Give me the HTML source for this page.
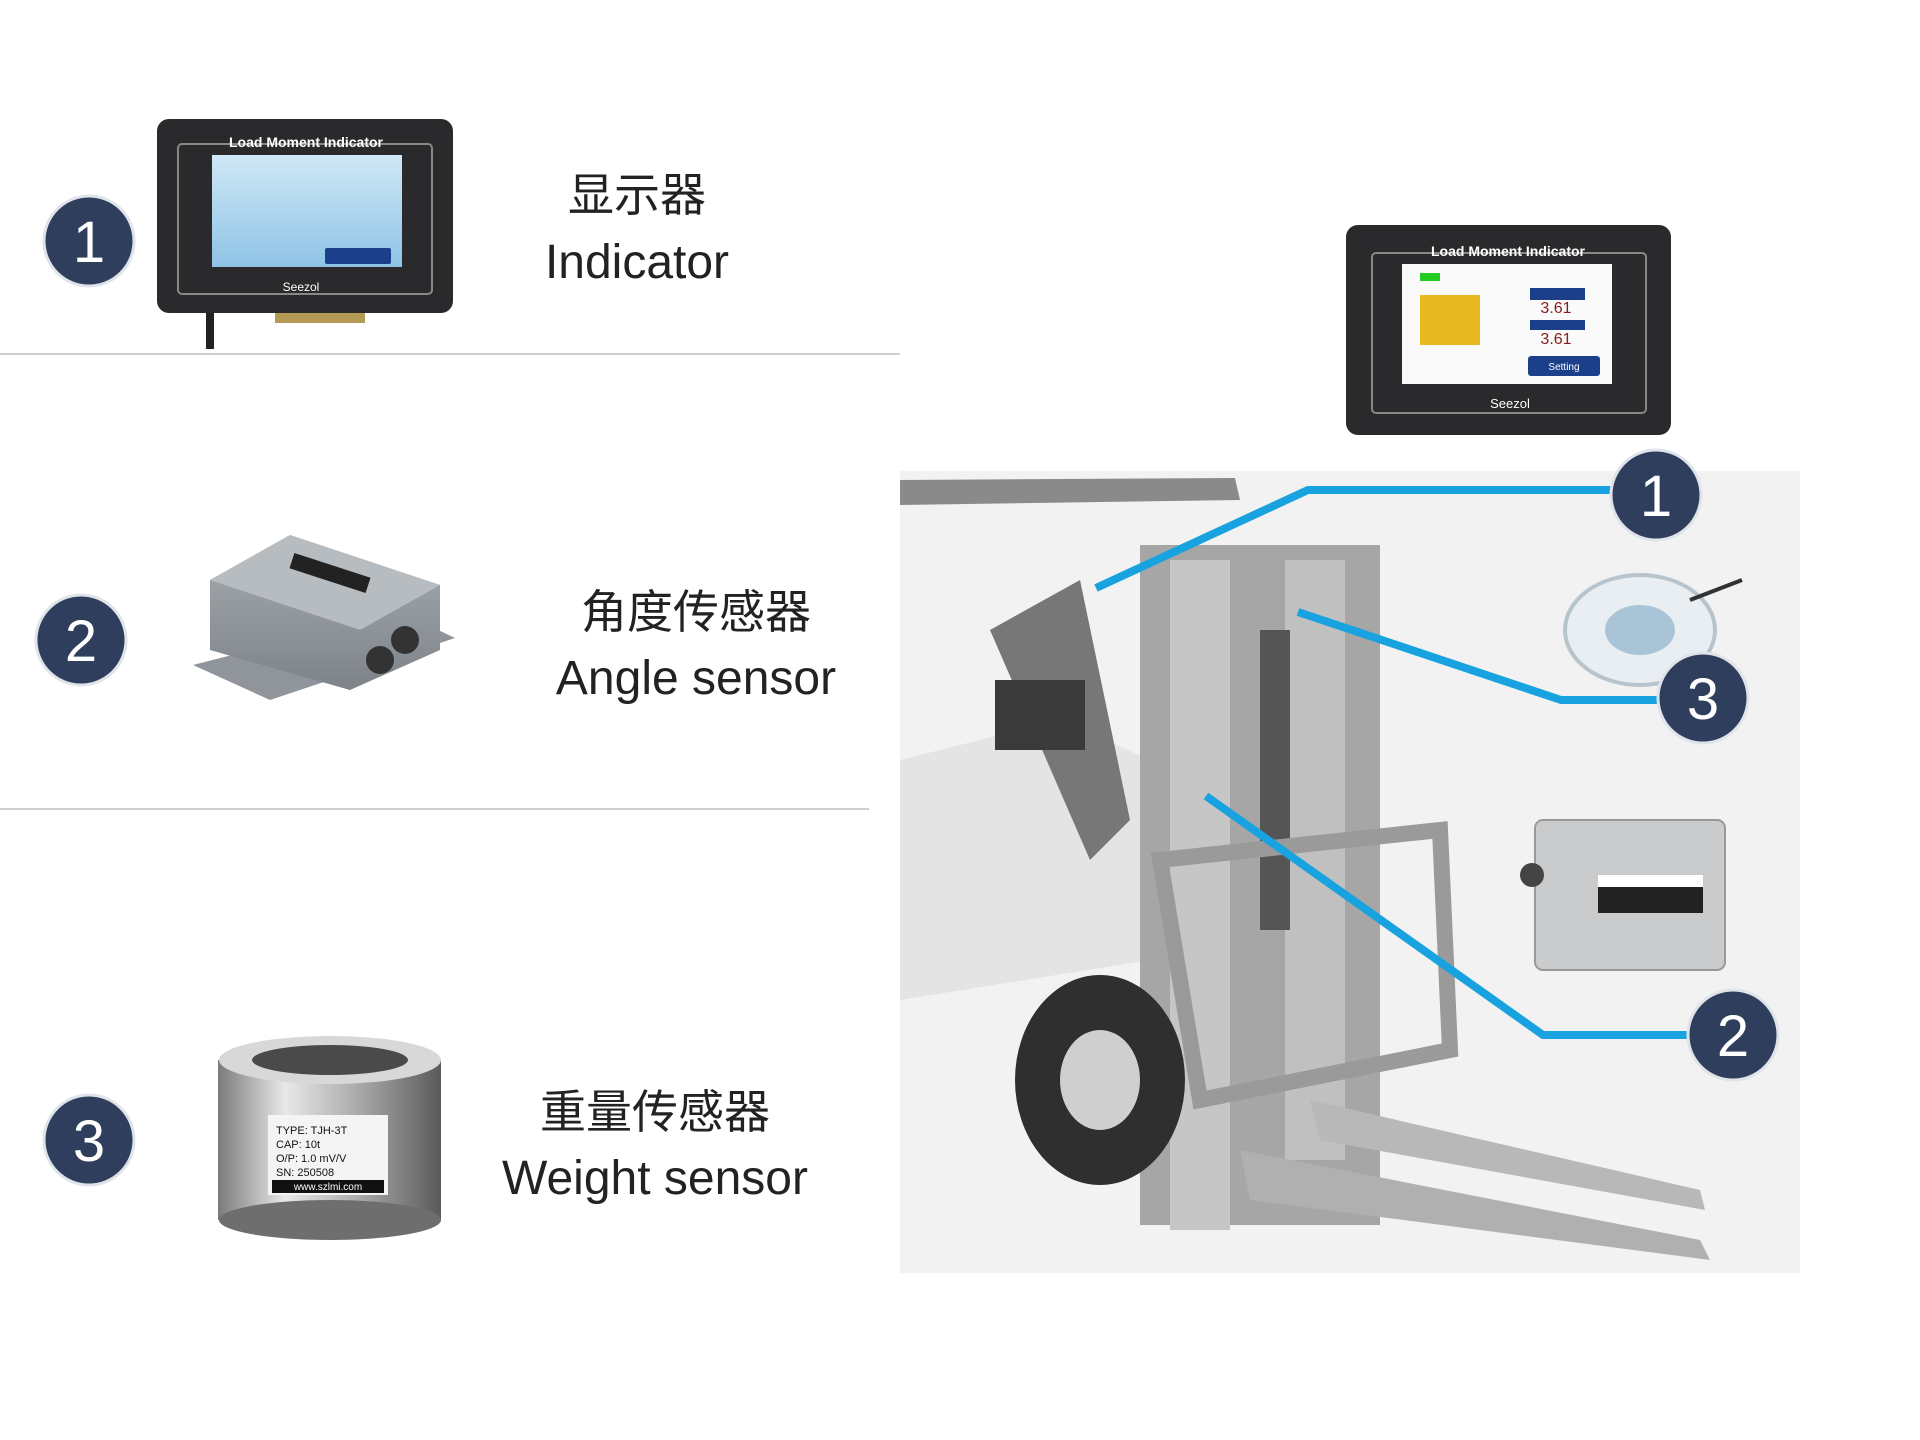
<!DOCTYPE html>
<html><head><meta charset="utf-8"><style>
html,body{margin:0;padding:0;background:#fff;}
body{width:1920px;height:1440px;overflow:hidden;position:relative;}
svg{position:absolute;left:0;top:0;}
text{font-family:"Liberation Sans","Noto Sans CJK SC",sans-serif;}
</style></head><body>
<svg width="1920" height="1440" viewBox="0 0 1920 1440">
<defs>
<linearGradient id="cyl" x1="0" x2="1"><stop offset="0" stop-color="#7a7a7a"/><stop offset="0.3" stop-color="#e8e8e8"/><stop offset="0.6" stop-color="#b0b0b0"/><stop offset="1" stop-color="#5a5a5a"/></linearGradient>
<linearGradient id="box" x1="0" y1="0" x2="0" y2="1"><stop offset="0" stop-color="#a8adb2"/><stop offset="1" stop-color="#7d8388"/></linearGradient>
<linearGradient id="scr" x1="0" y1="0" x2="0" y2="1"><stop offset="0" stop-color="#cfe8f6"/><stop offset="1" stop-color="#8fc3e6"/></linearGradient>
</defs>
<!-- dividers -->
<line x1="0" y1="354" x2="900" y2="354" stroke="#cfcfcf" stroke-width="2"/>
<line x1="0" y1="809" x2="869" y2="809" stroke="#cfcfcf" stroke-width="2"/>

<!-- left circles -->
<g font-size="58" fill="#fff" text-anchor="middle">
<circle cx="89" cy="241" r="45" fill="#2e3e5c" stroke="#dfe3ea" stroke-width="3"/><text x="89" y="262">1</text>
<circle cx="81" cy="640" r="45" fill="#2e3e5c" stroke="#dfe3ea" stroke-width="3"/><text x="81" y="661">2</text>
<circle cx="89" cy="1140" r="45" fill="#2e3e5c" stroke="#dfe3ea" stroke-width="3"/><text x="89" y="1161">3</text>
</g>

<!-- left indicator -->
<rect x="157" y="119" width="296" height="194" rx="12" fill="#2a2a2c"/>
<rect x="178" y="144" width="254" height="150" rx="4" fill="none" stroke="#888" stroke-width="2"/>
<text x="306" y="147" font-size="14" fill="#fff" text-anchor="middle" font-weight="bold">Load Moment Indicator</text>
<rect x="212" y="155" width="190" height="112" fill="url(#scr)"/>
<rect x="325" y="248" width="66" height="16" rx="2" fill="#1b3f8a"/>
<text x="301" y="291" font-size="12" fill="#fff" text-anchor="middle">Seezol</text>
<rect x="206" y="313" width="8" height="36" fill="#222"/>
<rect x="275" y="313" width="90" height="10" fill="#b59a55"/>

<text x="637" y="211" font-size="46" fill="#222" text-anchor="middle">显示器</text>
<text x="637" y="278" font-size="48" fill="#222" text-anchor="middle">Indicator</text>

<!-- angle sensor -->
<polygon points="193,665 270,700 455,638 400,612" fill="#8f959a"/>
<polygon points="210,580 290,535 440,585 440,650 350,690 210,650" fill="url(#box)"/>
<polygon points="210,580 290,535 440,585 360,630" fill="#b7bcc0"/>
<rect x="290" y="565" width="80" height="16" fill="#222" transform="rotate(18 330 573)"/>
<circle cx="405" cy="640" r="14" fill="#333"/><circle cx="380" cy="660" r="14" fill="#333"/>

<text x="696" y="628" font-size="46" fill="#222" text-anchor="middle">角度传感器</text>
<text x="696" y="694" font-size="48" fill="#222" text-anchor="middle">Angle sensor</text>

<!-- weight sensor -->
<rect x="218" y="1060" width="223" height="160" fill="url(#cyl)"/>
<ellipse cx="330" cy="1220" rx="111" ry="20" fill="#6e6e6e"/>
<ellipse cx="330" cy="1060" rx="111" ry="24" fill="#d8d8d8"/>
<ellipse cx="330" cy="1060" rx="78" ry="15" fill="#4a4a4a"/>
<rect x="268" y="1115" width="120" height="80" fill="#f4f4f4"/>
<g font-family="Liberation Mono" font-size="11" fill="#111">
<text x="276" y="1134">TYPE: TJH-3T</text><text x="276" y="1148">CAP:  10t</text><text x="276" y="1162">O/P:  1.0 mV/V</text><text x="276" y="1176">SN:   250508</text></g>
<rect x="272" y="1180" width="112" height="13" fill="#111"/>
<text x="328" y="1190" font-size="10" fill="#fff" text-anchor="middle">www.szlmi.com</text>

<text x="655" y="1128" font-size="46" fill="#222" text-anchor="middle">重量传感器</text>
<text x="655" y="1194" font-size="48" fill="#222" text-anchor="middle">Weight sensor</text>

<!-- forklift photo approximation -->
<rect x="900" y="471" width="900" height="802" fill="#f2f2f2"/>
<polygon points="900,480 1235,478 1240,500 900,505" fill="#8a8a8a"/>
<polygon points="900,760 1060,720 1150,760 1150,960 900,1000" fill="#e4e4e4"/>
<polygon points="990,630 1080,580 1130,820 1090,860" fill="#777"/>
<rect x="1140" y="545" width="240" height="680" fill="#a6a6a6"/>
<rect x="1170" y="560" width="60" height="670" fill="#c6c6c6"/>
<rect x="1285" y="560" width="60" height="600" fill="#c0c0c0"/>
<rect x="1260" y="630" width="30" height="300" fill="#555"/>
<polygon points="1160,860 1440,830 1450,1050 1200,1100" fill="none" stroke="#9a9a9a" stroke-width="16"/>
<ellipse cx="1100" cy="1080" rx="85" ry="105" fill="#2f2f2f"/>
<ellipse cx="1100" cy="1080" rx="40" ry="50" fill="#cfcfcf"/>
<polygon points="1240,1150 1700,1240 1710,1260 1250,1200" fill="#b0b0b0"/>
<polygon points="1310,1100 1700,1190 1705,1210 1320,1140" fill="#b8b8b8"/>
<rect x="995" y="680" width="90" height="70" fill="#3a3a3a"/>

<!-- right indicator -->
<rect x="1346" y="225" width="325" height="210" rx="12" fill="#2a2a2c"/>
<rect x="1372" y="253" width="274" height="160" rx="4" fill="none" stroke="#888" stroke-width="2"/>
<text x="1508" y="256" font-size="14" fill="#fff" text-anchor="middle" font-weight="bold">Load Moment Indicator</text>
<rect x="1402" y="264" width="210" height="120" fill="#fafafa"/>
<rect x="1420" y="273" width="20" height="8" fill="#2c2"/>
<rect x="1530" y="288" width="55" height="12" fill="#1b3f8a"/>
<text x="1556" y="313" font-size="16" fill="#8b1a1a" text-anchor="middle">3.61</text>
<rect x="1530" y="320" width="55" height="10" fill="#1b3f8a"/>
<text x="1556" y="344" font-size="16" fill="#8b1a1a" text-anchor="middle">3.61</text>
<rect x="1528" y="356" width="72" height="20" rx="3" fill="#1b3f8a"/>
<text x="1564" y="370" font-size="10" fill="#fff" text-anchor="middle">Setting</text>
<rect x="1420" y="295" width="60" height="50" fill="#e7b820"/>
<text x="1510" y="408" font-size="13" fill="#fff" text-anchor="middle">Seezol</text>

<!-- coil -->
<ellipse cx="1640" cy="630" rx="75" ry="55" fill="#e8eef2" stroke="#b8c4cc" stroke-width="4"/>
<ellipse cx="1640" cy="630" rx="35" ry="25" fill="#a9c4d6"/>
<line x1="1690" y1="600" x2="1742" y2="580" stroke="#333" stroke-width="4"/>
<!-- arm sensor -->
<rect x="1535" y="820" width="190" height="150" rx="8" fill="#c9cbcc" stroke="#999" stroke-width="2"/>
<rect x="1598" y="875" width="105" height="38" fill="#222"/>
<rect x="1598" y="875" width="105" height="12" fill="#fff"/>
<circle cx="1532" cy="875" r="12" fill="#444"/>

<!-- blue connectors -->
<g fill="none" stroke="#19a2e0" stroke-width="8" stroke-linejoin="round">
<polyline points="1096,588 1308,490 1615,490"/>
<polyline points="1298,612 1561,700 1660,700"/>
<polyline points="1206,796 1543,1035 1690,1035"/>
</g>
<g font-size="58" fill="#fff" text-anchor="middle">
<circle cx="1656" cy="495" r="45" fill="#2e3e5c" stroke="#dfe3ea" stroke-width="3"/><text x="1656" y="516">1</text>
<circle cx="1703" cy="698" r="45" fill="#2e3e5c" stroke="#dfe3ea" stroke-width="3"/><text x="1703" y="719">3</text>
<circle cx="1733" cy="1035" r="45" fill="#2e3e5c" stroke="#dfe3ea" stroke-width="3"/><text x="1733" y="1056">2</text>
</g>
</svg>
</body></html>
